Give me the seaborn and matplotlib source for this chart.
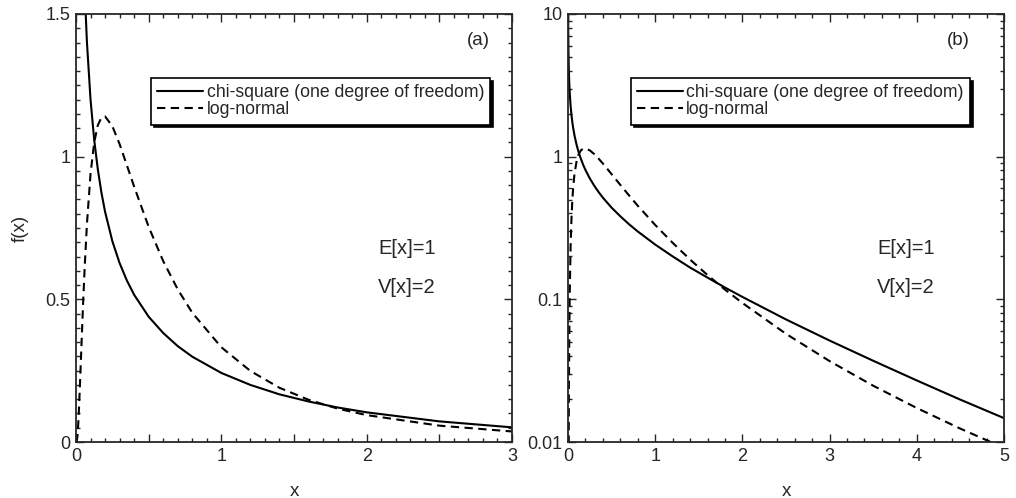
import matplotlib
matplotlib.use("Agg")
import matplotlib.pyplot as plt
import matplotlib.ticker as mticker
import pandas as pd
import seaborn as sns

# values
x_vals = [0.001, 0.002, 0.005, 0.01, 0.015, 0.02, 0.03, 0.04, 0.05, 0.06,
          0.075, 0.1, 0.125, 0.15, 0.175, 0.2, 0.25, 0.3, 0.35, 0.4,
          0.5, 0.6, 0.7, 0.8, 1.0, 1.2, 1.4, 1.6, 1.8, 2.0,
          2.5, 3.0, 3.5, 4.0, 4.5, 5.0]
chi_square = [12.61, 8.912, 5.628, 3.970, 3.233, 2.793, 2.269, 1.955, 1.740, 1.581,
              1.403, 1.200, 1.060, 0.956, 0.874, 0.807, 0.704, 0.627, 0.566, 0.516,
              0.439, 0.382, 0.336, 0.299, 0.242, 0.200, 0.167, 0.142, 0.121, 0.104,
              0.0723, 0.0514, 0.0371, 0.0270, 0.0198, 0.0147]
log_normal = [0.00001, 0.0001, 0.0027, 0.0213, 0.0590, 0.111, 0.237, 0.371, 0.500, 0.615,
              0.762, 0.940, 1.049, 1.110, 1.137, 1.141, 1.107, 1.044, 0.970, 0.895,
              0.754, 0.634, 0.535, 0.453, 0.332, 0.249, 0.190, 0.148, 0.117, 0.0943,
              0.0573, 0.0369, 0.0248, 0.0173, 0.0124, 0.0091]
labels = ["chi-square (one degree of freedom)", "log-normal"]
panel_tags = ["(a)", "(b)"]
moments = ["E[x]=1", "V[x]=2"]

sns.set_style("ticks")
plt.rcParams['font.family'] = ['Liberation Sans', 'DejaVu Sans']

df = pd.DataFrame({
    "x": x_vals * 2,
    "f": chi_square + log_normal,
    "dist": [labels[0]] * len(x_vals) + [labels[1]] * len(x_vals),
})

fig = plt.figure(figsize=(10.16, 4.98), dpi=100)
W, H = 1016, 498
ax1 = fig.add_axes([76 / W, 56 / H, 436 / W, 428 / H])
ax2 = fig.add_axes([568 / W, 56 / H, 436 / W, 428 / H])

dash_map = {labels[0]: "", labels[1]: (4, 2.6)}
for ax in (ax1, ax2):
    sns.lineplot(data=df, x="x", y="f", style="dist", dashes=dash_map,
                 color="black", lw=1.5, legend=False, ax=ax, sort=True)

# panel (a): linear
ax1.set_xlim(0, 3)
ax1.set_ylim(0, 1.5)
ax1.xaxis.set_major_locator(mticker.MultipleLocator(0.5))
ax1.xaxis.set_minor_locator(mticker.MultipleLocator(0.1))
ax1.xaxis.set_major_formatter(mticker.FuncFormatter(
    lambda v, p: "%d" % round(v) if abs(v - round(v)) < 1e-6 else ""))
ax1.yaxis.set_major_locator(mticker.MultipleLocator(0.5))
ax1.yaxis.set_minor_locator(mticker.MultipleLocator(0.05))
ax1.yaxis.set_major_formatter(mticker.FuncFormatter(lambda v, p: "%g" % v))
ax1.set_ylabel("f(x)", fontsize=13.5, labelpad=12)

# panel (b): log
ax2.set_yscale("log")
ax2.set_xlim(0, 5)
ax2.set_ylim(0.01, 10)
ax2.xaxis.set_major_locator(mticker.MultipleLocator(1))
ax2.xaxis.set_minor_locator(mticker.MultipleLocator(0.2))
ax2.yaxis.set_major_locator(mticker.LogLocator(base=10, numticks=10))
ax2.yaxis.set_minor_locator(mticker.LogLocator(base=10, subs=range(2, 10), numticks=10))
ax2.yaxis.set_major_formatter(mticker.FuncFormatter(lambda v, p: "%g" % v))
ax2.yaxis.set_minor_formatter(mticker.NullFormatter())
ax2.set_ylabel("")

legend_right = [0.950, 0.922]
for ax, tag, xr in zip((ax1, ax2), panel_tags, legend_right):
    ax.set_xlabel("x", fontsize=13.5, labelpad=13)
    ax.tick_params(which="both", direction="in", top=True, right=True,
                   labelsize=13, width=1.0, pad=4)
    ax.tick_params(which="major", length=6)
    ax.tick_params(which="minor", length=3)
    for s in ax.spines.values():
        s.set_linewidth(1.3)
    ax.text(xr, 0.939, tag, transform=ax.transAxes, ha="right", va="center", fontsize=13.5)
    leg = ax.legend(ax.lines[:2], labels, loc="upper right",
                    bbox_to_anchor=(xr, 0.850), borderaxespad=0, fontsize=12.7,
                    frameon=True, fancybox=False, shadow={"color": "black", "alpha": 1},
                    handlelength=2.6, handletextpad=0.2, labelspacing=0.0,
                    borderpad=0.35)
    leg.get_frame().set_edgecolor("black")
    leg.get_frame().set_linewidth(1.2)
    leg.get_frame().set_alpha(1)

ax1.text(0.693, 0.453, moments[0], transform=ax1.transAxes, ha="left", va="center", fontsize=14.5)
ax1.text(0.693, 0.362, moments[1], transform=ax1.transAxes, ha="left", va="center", fontsize=14.5)
ax2.text(0.709, 0.453, moments[0], transform=ax2.transAxes, ha="left", va="center", fontsize=14.5)
ax2.text(0.709, 0.362, moments[1], transform=ax2.transAxes, ha="left", va="center", fontsize=14.5)

fig.savefig("out.png", dpi=100)
